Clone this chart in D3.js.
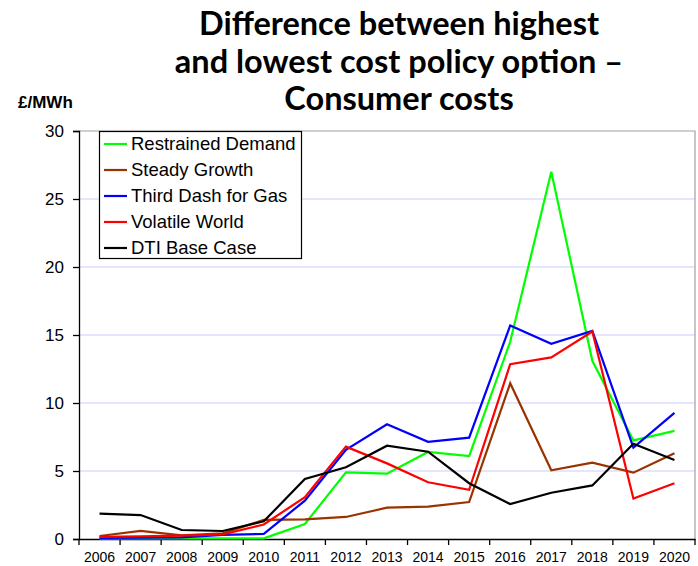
<!DOCTYPE html>
<html><head><meta charset="utf-8">
<script src="https://cdn.jsdelivr.net/npm/d3@7"></script>
<style>body{margin:0;background:#fff}svg{display:block}</style>
</head><body><svg id="c" width="698" height="566"></svg>
<script>
const years = ["2006","2007","2008","2009","2010","2011","2012","2013","2014","2015","2016","2017","2018","2019","2020"];
const restrainedDemand = [0.05,0.05,0.05,0.05,0.05,1.1,4.9,4.8,6.4,6.1,14.5,27.0,13.1,7.25,7.95];
const steadyGrowth     = [0.22,0.6,0.27,0.42,1.4,1.45,1.62,2.3,2.38,2.72,11.45,5.05,5.62,4.88,6.3];
const thirdDash        = [0.08,0.1,0.12,0.3,0.38,2.82,6.55,8.43,7.15,7.45,15.7,14.35,15.3,6.72,9.28];
const volatileWorld    = [0.15,0.2,0.25,0.33,1.07,3.07,6.79,5.56,4.17,3.62,12.85,13.35,15.25,2.97,4.1];
const dtiBase          = [1.86,1.76,0.66,0.59,1.3,4.41,5.27,6.86,6.42,4.1,2.57,3.4,3.94,7.0,5.81];
const seriesNames = ["Restrained Demand","Steady Growth","Third Dash for Gas","Volatile World","DTI Base Case"];
const seriesColors = ["#00ff00","#993300","#0000ff","#ff0000","#000000"];
const seriesData = [restrainedDemand, steadyGrowth, thirdDash, volatileWorld, dtiBase];
const yTicks = [0,5,10,15,20,25,30];
const titleLines = ["Difference between highest","and lowest cost policy option \u2013","Consumer costs"];

const svg = d3.select("#c");
const L = 79, R = 695, T = 131, B = 539;
const x = d3.scaleBand().domain(years).range([L, R]);
const y = d3.scaleLinear().domain([0, 30]).range([B, T]);

// gridlines
svg.append("g").selectAll("line").data(yTicks.filter(d => d > 0 && d < 30)).join("line")
  .attr("x1", L).attr("x2", R).attr("y1", d => y(d)).attr("y2", d => y(d))
  .attr("stroke", "#ccccff").attr("stroke-width", 1.2);
// plot border top/right
svg.append("path").attr("d", `M${L},${y(30)}H${R}V${B}`).attr("fill","none").attr("stroke","#a0a0a0").attr("stroke-width",1.2);

// axes
const yAxis = svg.append("g").attr("transform", `translate(${L},0)`)
  .call(d3.axisLeft(y).tickValues(yTicks).tickSize(6).tickPadding(9).tickFormat(d3.format("d")));
yAxis.select(".domain").attr("stroke","#000").attr("stroke-width",1.3);
yAxis.selectAll(".tick line").attr("stroke","#000").attr("stroke-width",1.3);
yAxis.selectAll("text").attr("font-family","Liberation Sans, Arial, sans-serif").attr("font-size",17).attr("fill","#000");

const xAxis = svg.append("g").attr("transform", `translate(0,${B})`)
  .call(d3.axisBottom(x).tickSize(0).tickPadding(13));
xAxis.select(".domain").attr("stroke","#000").attr("stroke-width",1.3);
xAxis.selectAll("text").attr("font-family","Liberation Sans, Arial, sans-serif").attr("font-size",14).attr("fill","#000");
// boundary ticks between categories
const bounds = years.map(d => x(d)).concat([R]);
svg.append("g").selectAll("line").data(bounds).join("line")
  .attr("x1", d => d).attr("x2", d => d).attr("y1", B).attr("y2", B + 6)
  .attr("stroke","#000").attr("stroke-width",1.3);

// lines
const line = d3.line().x((d, i) => x(years[i]) + x.bandwidth()/2).y(d => y(d));
seriesData.forEach((s, k) => {
  svg.append("path").datum(s).attr("d", line).attr("fill","none")
    .attr("stroke", seriesColors[k]).attr("stroke-width", 2.2).attr("stroke-linejoin","miter");
});

// legend
const lg = svg.append("g");
lg.append("rect").attr("x", 99.5).attr("y", 131.5).attr("width", 202).attr("height", 127)
  .attr("fill","#fff").attr("stroke","#000").attr("stroke-width",1.2);
seriesNames.forEach((n, k) => {
  const cy = 144 + k * 26;
  lg.append("line").attr("x1",104).attr("x2",127).attr("y1",cy).attr("y2",cy)
    .attr("stroke", seriesColors[k]).attr("stroke-width",2.2);
  lg.append("text").attr("x",131).attr("y",cy).attr("dy","0.35em")
    .attr("font-family","Liberation Sans, Arial, sans-serif").attr("font-size",18.5).attr("fill","#000").text(n);
});

// title
svg.append("g").selectAll("text").data(titleLines).join("text")
  .attr("x", 399).attr("y", (d, i) => 35 + i * 37.5).attr("text-anchor","middle")
  .attr("font-family","Lato, 'Open Sans', sans-serif").attr("font-weight","bold").attr("font-size",32.5)
  .attr("fill","#000").text(d => d);

// unit label
svg.append("text").attr("x", 18).attr("y", 108)
  .attr("font-family","Liberation Sans, Arial, sans-serif").attr("font-weight","bold").attr("font-size",17)
  .attr("fill","#000").text("£/MWh");
</script></body></html>
